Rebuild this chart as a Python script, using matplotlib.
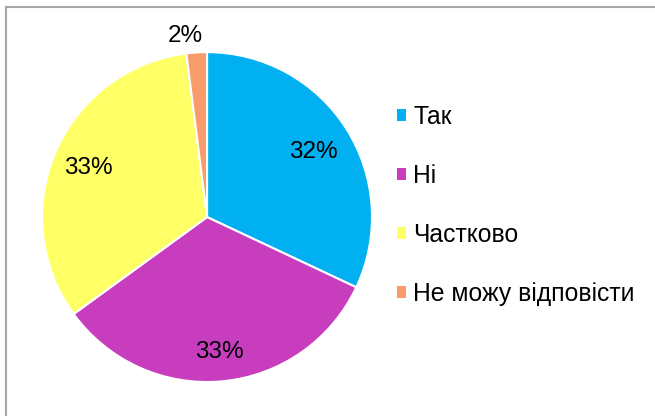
import matplotlib.pyplot as plt
import numpy as np
from matplotlib.patches import Patch
from matplotlib.lines import Line2D

plt.rcParams['font.family'] = ['Liberation Sans', 'DejaVu Sans']

labels = ['Так', 'Ні', 'Частково', 'Не можу відповісти']
values = [32, 33, 33, 2]
colors = ['#00B0F0', '#C83CBE', '#FFFF66', '#F99B6B']
label_dist = [0.76, 0.805, 0.785, 1.12]  # where Excel put each percent label

fig = plt.figure(figsize=(6.55, 4.16), dpi=100)
ax = fig.add_axes([0.0641, 0.0817, 0.504, 0.793])

wedges, texts, autotexts = ax.pie(values, colors=colors, startangle=90, counterclock=False,
                                  autopct='%1.0f%%',
                                  wedgeprops=dict(edgecolor='white', linewidth=1.5),
                                  textprops=dict(fontsize=17.5, color='black'))
for w, t, d in zip(wedges, autotexts, label_dist):
    ang = np.deg2rad((w.theta1 + w.theta2) / 2)
    if d > 1:
        ang += np.deg2rad(3)
    t.set_position((d * np.cos(ang), d * np.sin(ang)))
    t.set_va('center_baseline')

ax.set_xlim(-1, 1)
ax.set_ylim(-1, 1)
ax.set_aspect('equal')

handles = [Patch(facecolor=c, edgecolor='none') for c in colors]
fig.legend(handles, labels, loc='upper left', bbox_to_anchor=(0.606, 0.747),
           frameon=False, fontsize=17.8, handlelength=0.38, handleheight=0.38,
           handletextpad=0.29, labelspacing=1.41, borderpad=0, borderaxespad=0)

# chart border (top and left visible)
fig.add_artist(Line2D([6/655, 6/655], [0, 1 - 7/416], transform=fig.transFigure, color='#A6A6A6', lw=1.5))
fig.add_artist(Line2D([6/655, 1], [1 - 7/416, 1 - 7/416], transform=fig.transFigure, color='#A6A6A6', lw=1.5))

fig.savefig('out.png', dpi=100)
